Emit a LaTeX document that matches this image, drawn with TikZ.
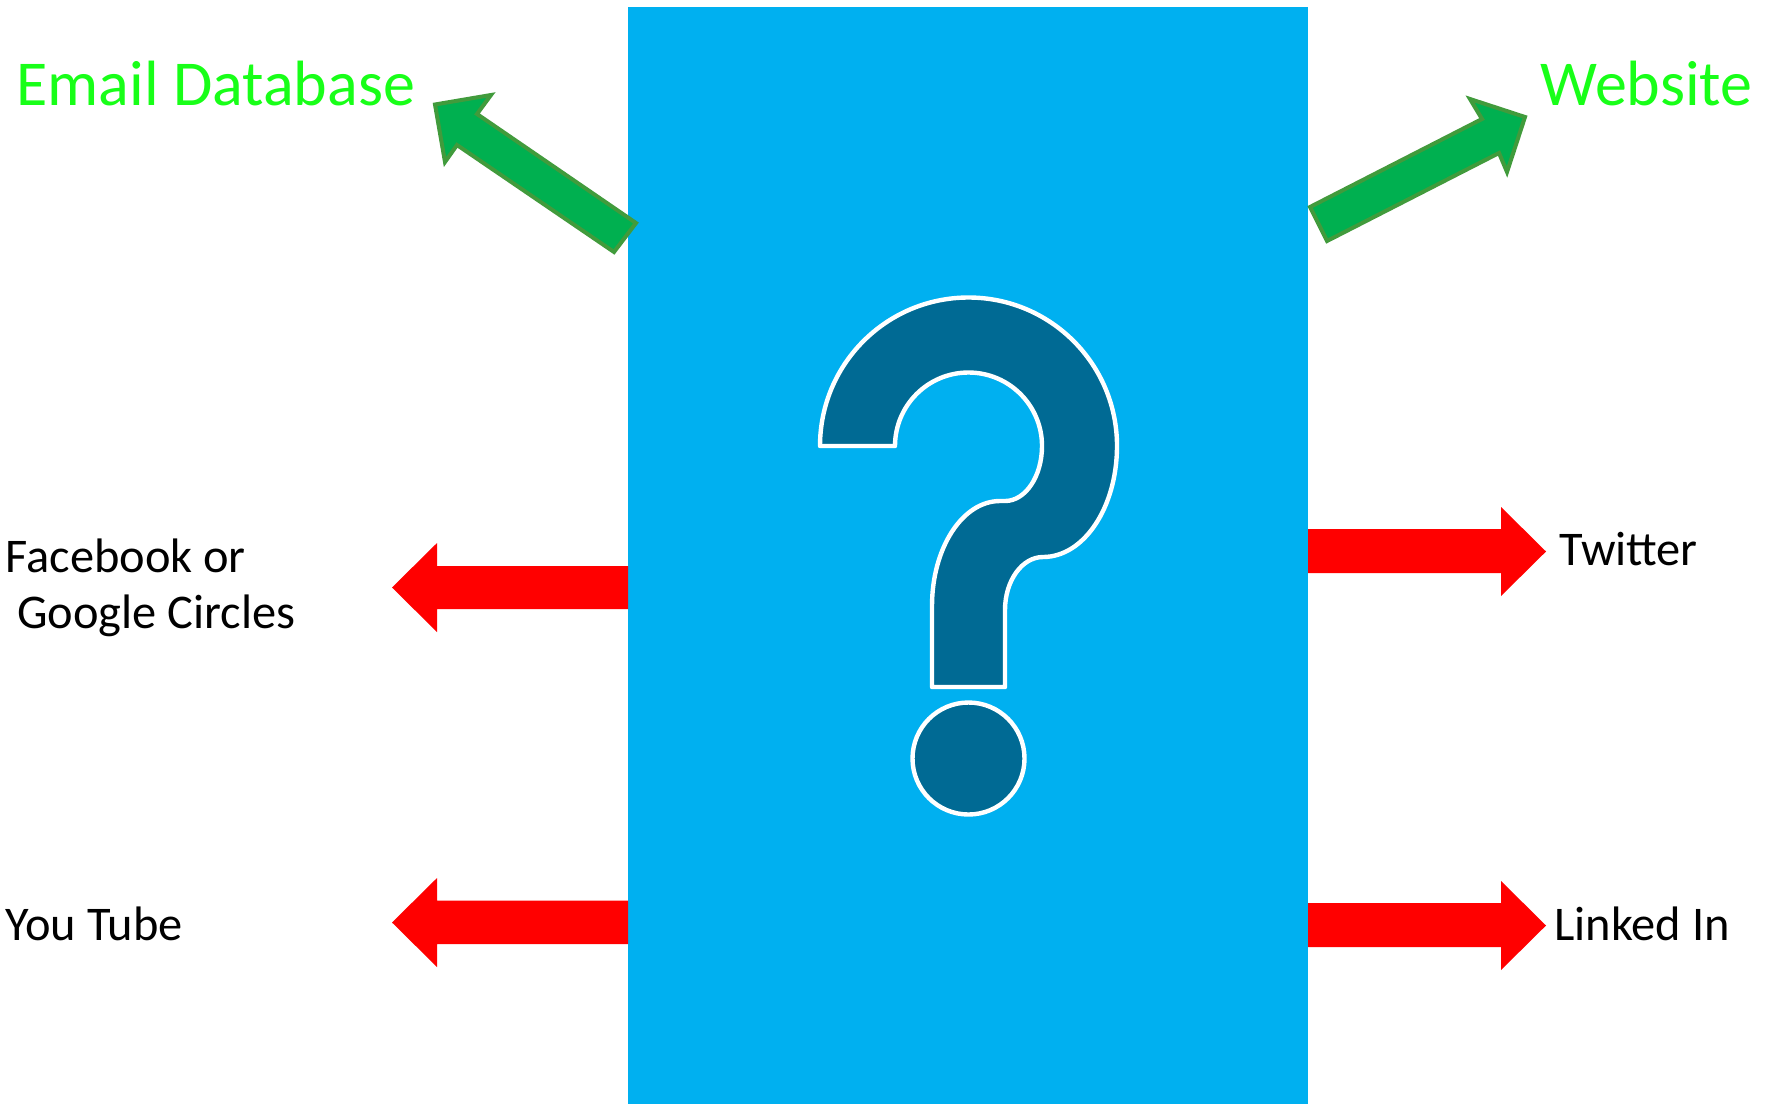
\documentclass[tikz,border=0pt]{standalone}
\usepackage{fontspec}
\setmainfont{Carlito}
\definecolor{boxblue}{RGB}{0,176,240}
\definecolor{qblue}{RGB}{0,106,148}
\definecolor{arrowgreen}{RGB}{0,176,80}
\definecolor{arrowedge}{RGB}{65,155,60}
\definecolor{textgreen}{RGB}{24,255,24}
\tikzset{
  redarrow/.style={fill=red, draw=none},
  greenarrow/.style={fill=arrowgreen, draw=arrowedge, line width=2pt, line join=miter},
  qmark/.style={fill=qblue, draw=white, line width=2.2pt, line join=round},
  blacklabel/.style={font=\fontsize{24.2}{29}\selectfont, inner sep=0pt, anchor=base west, text=black},
  greenlabel/.style={font=\fontsize{32}{38}\selectfont, inner sep=0pt, anchor=base west, text=textgreen},
  panelbox/.style={fill=boxblue, draw=none, inner sep=0pt, minimum width=340pt, minimum height=548.5pt}
}
\begin{document}
\begin{tikzpicture}[x=0.5pt,y=-0.5pt]
\useasboundingbox (0,0) rectangle (1765,1104);
% central panel
\node[panelbox] (panel) at (968,555.5) {};
% question mark
\draw[qmark] (820,446) -- (895,446)
  .. controls (895,405.4) and (927.9,372.5) .. (968.5,372.5)
  .. controls (1009.1,372.5) and (1042,405.4) .. (1042,446)
  .. controls (1042,476.4) and (1025.4,501) .. (1005,501)
  -- (1000,501)
  .. controls (962.4,501) and (932,548) .. (932,606)
  -- (932,687) -- (1005,687) -- (1005,610)
  .. controls (1005,580.7) and (1022,557) .. (1043,557)
  .. controls (1083.9,557) and (1117,507.3) .. (1117,446)
  .. controls (1117,364) and (1050.5,297.5) .. (968.5,297.5)
  .. controls (886.5,297.5) and (820,364) .. (820,446) -- cycle;
\draw[qmark] (968.5,758.5) circle[radius=28pt];
% green arrows
\draw[greenarrow] (636,223) -- (477,114) -- (491,95) -- (435,104.5) -- (445,162) -- (457,145) -- (614,252) -- cycle;
\draw[greenarrow] (1310,207) -- (1482,119) -- (1470,99) -- (1525,117) -- (1507,172) -- (1499,153) -- (1327,241) -- cycle;
% red arrows
\fill[redarrow] (628,566) -- (437,566) -- (437,543) -- (392,587.5) -- (437,632) -- (437,609) -- (628,609) -- cycle;
\fill[redarrow] (628,900.5) -- (437,900.5) -- (437,878) -- (392,922.5) -- (437,967) -- (437,944) -- (628,944) -- cycle;
\fill[redarrow] (1308,529) -- (1501,529) -- (1501,507) -- (1546,551.5) -- (1501,596) -- (1501,573) -- (1308,573) -- cycle;
\fill[redarrow] (1308,903) -- (1501,903) -- (1501,881) -- (1546,925.5) -- (1501,970) -- (1501,947) -- (1308,947) -- cycle;
% labels
\node[greenlabel] (email) at (16,105) {Email Database};
\node[greenlabel] (web) at (1540,105) {Website};
\node[blacklabel] (fb1) at (5,572) {Facebook or};
\node[blacklabel] (fb2) at (17,628) {Google Circles};
\node[blacklabel] (yt) at (5,940) {You Tube};
\node[blacklabel] (tw) at (1559,565) {Twitter};
\node[blacklabel] (li) at (1554,940) {Linked In};
\end{tikzpicture}
\end{document}
